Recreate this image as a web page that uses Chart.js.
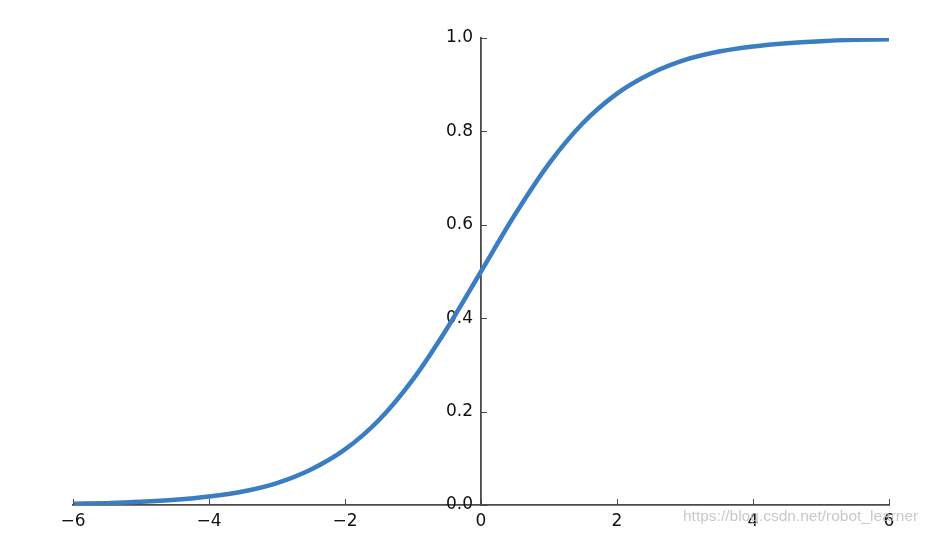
<!DOCTYPE html>
<html>
<head>
<meta charset="utf-8">
<script src="https://cdn.jsdelivr.net/npm/chart.js@4/dist/chart.umd.min.js"></script>
<style>
  html, body { margin: 0; padding: 0; background: #fff; }
  #wrap { position: relative; width: 933px; height: 536px; }
  #wm { position: absolute; left: 683px; top: 507px; font-family: "Liberation Sans", Arial, sans-serif; font-size: 15.5px; color: rgba(190,190,190,0.85); white-space: nowrap; }
</style>
</head>
<body>
<div id="wrap">
  <canvas id="c" width="933" height="536"></canvas>
  <div id="wm">https://blog.csdn.net/robot_learner</div>
</div>
<script>
// x positions
const xValues = [-6, -5.5, -5, -4.5, -4, -3.5, -3, -2.5, -2, -1.5, -1, -0.5, 0,
                 0.5, 1, 1.5, 2, 2.5, 3, 3.5, 4, 4.5, 5, 5.5, 6];
// y values
const yValues = [0.0025, 0.004, 0.0067, 0.011, 0.018, 0.029, 0.047, 0.076, 0.119, 0.182, 0.269, 0.378, 0.5,
                 0.622, 0.731, 0.818, 0.881, 0.924, 0.953, 0.971, 0.982, 0.989, 0.9933, 0.996, 0.9975];
const xTickValues = [-6, -4, -2, 0, 2, 4, 6];
const yTickValues = [0.0, 0.2, 0.4, 0.6, 0.8, 1.0];

const points = xValues.map((x, i) => ({ x: x, y: yValues[i] }));

const axisColor = '#4a4a4a';
const tickFont = { family: '"DejaVu Sans", sans-serif', size: 17 };

const innerTicks = {
  id: 'innerTicks',
  afterDraw(chart) {
    const ctx = chart.ctx;
    const xs = chart.scales.x, ys = chart.scales.y;
    const y0 = ys.getPixelForValue(0), x0 = xs.getPixelForValue(0);
    ctx.save();
    ctx.strokeStyle = axisColor;
    ctx.lineWidth = 1;
    xTickValues.forEach(v => {
      const px = Math.round(xs.getPixelForValue(v)) + 0.5;
      ctx.beginPath(); ctx.moveTo(px, y0); ctx.lineTo(px, y0 - 6); ctx.stroke();
    });
    yTickValues.forEach(v => {
      const py = Math.round(ys.getPixelForValue(v)) + 0.5;
      ctx.beginPath(); ctx.moveTo(x0, py); ctx.lineTo(x0 + 6, py); ctx.stroke();
    });
    ctx.restore();
  }
};

new Chart(document.getElementById('c'), {
  type: 'line',
  data: {
    datasets: [{
      data: points,
      borderColor: '#3a7dc2',
      borderWidth: 4.5,
      pointRadius: 0,
      cubicInterpolationMode: 'monotone',
      fill: false
    }]
  },
  options: {
    responsive: false,
    animation: false,
    layout: { padding: { left: 73, right: 44, top: 38, bottom: 31 } },
    plugins: { legend: { display: false }, tooltip: { enabled: false } },
    scales: {
      x: {
        type: 'linear',
        min: -6, max: 6,
        position: { y: 0 },
        grid: { display: false, drawTicks: false },
        border: { display: true, color: axisColor, width: 1.8 },
        afterBuildTicks(scale) { scale.ticks = xTickValues.map(v => ({ value: v })); },
        ticks: {
          color: '#111', font: tickFont, padding: 6, maxRotation: 0, autoSkip: false,
          callback: v => (v < 0 ? '\u2212' + Math.abs(v) : String(v))
        }
      },
      y: {
        type: 'linear',
        min: 0, max: 1,
        position: 'center',
        grid: { display: false, drawTicks: false },
        border: { display: true, color: axisColor, width: 1.8 },
        afterBuildTicks(scale) { scale.ticks = yTickValues.map(v => ({ value: v })); },
        ticks: {
          color: '#111', font: tickFont, padding: 8, autoSkip: false,
          callback: v => Number(v).toFixed(1)
        }
      }
    }
  },
  plugins: [innerTicks]
});
</script>
</body>
</html>
